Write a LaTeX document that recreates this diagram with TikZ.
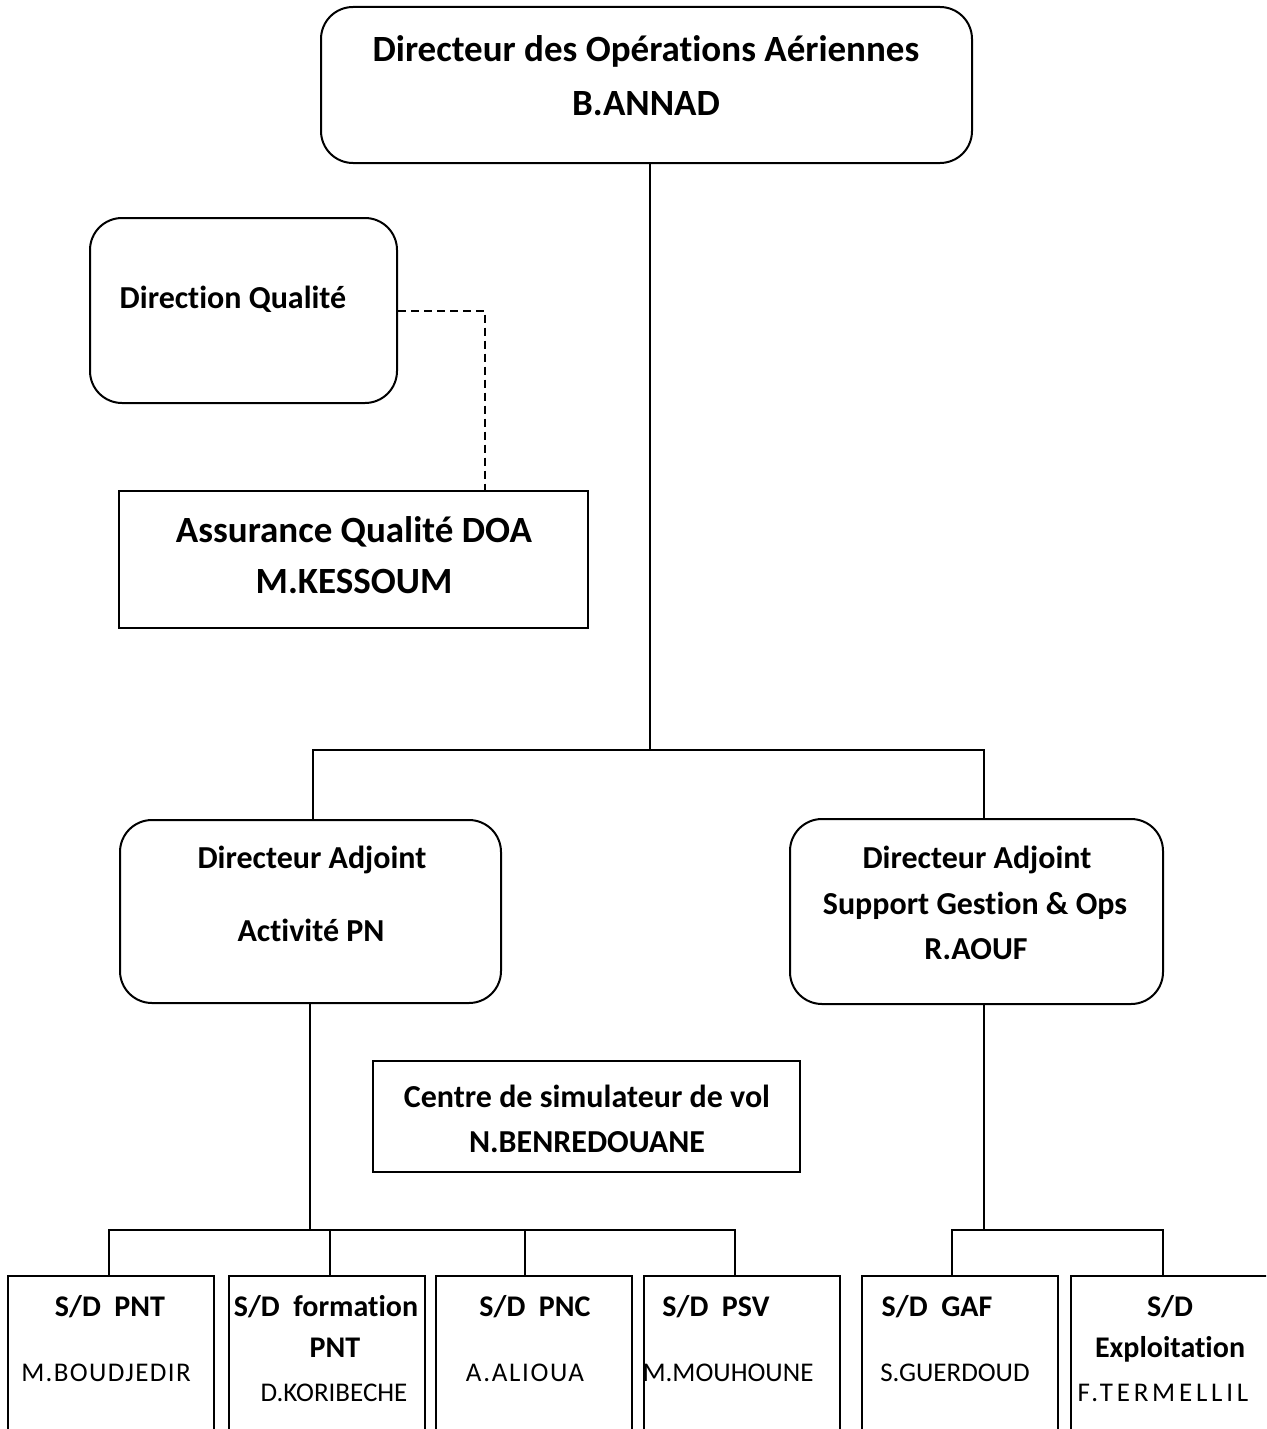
\documentclass[tikz,border=0pt]{standalone}
\usepackage{fontspec}
\setmainfont[Ligatures=NoCommon]{Carlito}
\begin{document}
\begin{tikzpicture}[x=1pt,y=-1pt,
  box/.style={draw, line width=2pt, inner sep=0pt},
  rbox/.style={box, rounded corners=32pt},
  big/.style={anchor=base, inner sep=0pt, font=\bfseries\fontsize{37}{44}\selectfont},
  mid/.style={anchor=base, inner sep=0pt, font=\bfseries\fontsize{32}{38}\selectfont},
  sd/.style={anchor=base, inner sep=0pt, font=\bfseries\fontsize{30}{36}\selectfont},
  nm/.style={anchor=base, inner sep=0pt, font=\fontsize{27}{32}\selectfont},
  conn/.style={line width=2pt},
  dconn/.style={line width=2pt, dash pattern=on 8pt off 5pt}]
\clip (0,0) rectangle (1266,1429);
\useasboundingbox (0,0) rectangle (1266,1429);

% boxes
\node[rbox, minimum width=651pt, minimum height=156pt] (doa) at (646.5,85) {};
\node[rbox, minimum width=307pt, minimum height=185pt] (dq) at (243.5,310.5) {};
\node[box, minimum width=469pt, minimum height=137pt] (aq) at (353.5,559.5) {};
\node[rbox, minimum width=381pt, minimum height=183pt] (dapn) at (310.5,911.5) {};
\node[rbox, minimum width=373pt, minimum height=185pt] (dasg) at (976.5,911.5) {};
\node[box, minimum width=427pt, minimum height=111pt] (csv) at (586.5,1116.5) {};
\node[box, minimum width=206pt, minimum height=184pt] (b1) at (111,1368) {};
\node[box, minimum width=196pt, minimum height=184pt] (b2) at (327,1368) {};
\node[box, minimum width=196pt, minimum height=184pt] (b3) at (534,1368) {};
\node[box, minimum width=196pt, minimum height=184pt] (b4) at (742,1368) {};
\node[box, minimum width=196pt, minimum height=184pt] (b5) at (960,1368) {};
\node[box, minimum width=209pt, minimum height=184pt] (b6) at (1175.5,1368) {};

% texts
\node[big] (t1) at (646,62) {Directeur des Opérations Aériennes};
\node[big] (t2) at (646,115) {B.ANNAD};
\node[mid] (t3) at (233,308) {Direction Qualité};
\node[big] (t4) at (354,542) {Assurance Qualité DOA};
\node[big] (t5) at (354,593) {M.KESSOUM};
\node[mid] (t6) at (312,868) {Directeur Adjoint};
\node[mid] (t7) at (311,941) {Activité PN};
\node[mid] (t8) at (977,868) {Directeur Adjoint};
\node[mid] (t9) at (975,914) {Support Gestion \& Ops};
\node[mid] (t10) at (976,959) {R.AOUF};
\node[mid] (t11) at (587,1107) {Centre de simulateur de vol};
\node[mid] (t12) at (587,1152) {N.BENREDOUANE};
\node[sd] (s1) at (110,1316) {S/D\ \ PNT};
\node[nm] (n1) at (106,1381) {\addfontfeature{LetterSpace=5}M.BOUDJEDIR};
\node[sd] (s2) at (326,1316) {S/D\ \ formation};
\node[sd] (s2b) at (335,1357) {PNT};
\node[nm] (n2) at (334,1401) {D.KORIBECHE};
\node[sd] (s3) at (535,1316) {S/D\ \ PNC};
\node[nm] (n3) at (525,1381) {\addfontfeature{LetterSpace=6}A.ALIOUA};
\node[sd] (s4) at (716,1316) {S/D\ \ PSV};
\node[nm] (n4) at (728,1381) {M.MOUHOUNE};
\node[sd] (s5) at (937,1316) {S/D\ \ GAF};
\node[nm] (n5) at (955,1381) {S.GUERDOUD};
\node[sd] (s6) at (1170,1316) {S/D};
\node[sd] (s6b) at (1170,1357) {Exploitation};
\node[nm] (n6) at (1163,1401) {\addfontfeature{LetterSpace=14}F.TERMELLIL};

% junction coordinates
\coordinate (j1) at (650,750);
\coordinate (bl) at (313,750);
\coordinate (br) at (984,750);
\coordinate (qd) at (485,0);
\coordinate (lj) at (310,1230);
\coordinate (l1) at (109,1230);
\coordinate (l2) at (330,1230);
\coordinate (l3) at (525,1230);
\coordinate (l4) at (735,1230);
\coordinate (rj) at (984,1230);
\coordinate (r1) at (952,1230);
\coordinate (r2) at (1163,1230);

% connectors
\draw[conn] (doa.south -| j1) -- (j1);
\draw[conn] (dapn.north -| bl) |- (br) -- (dasg.north -| br);
\draw[dconn] (dq.east) -| (aq.north -| qd);
\draw[conn] (dapn.south -| lj) -- (lj);
\draw[conn] (b1.north -| l1) |- (l4) -- (b4.north -| l4);
\draw[conn] (l2) -- (b2.north -| l2);
\draw[conn] (l3) -- (b3.north -| l3);
\draw[conn] (dasg.south -| rj) -- (rj);
\draw[conn] (b5.north -| r1) |- (r2) -- (b6.north -| r2);
\end{tikzpicture}
\end{document}
